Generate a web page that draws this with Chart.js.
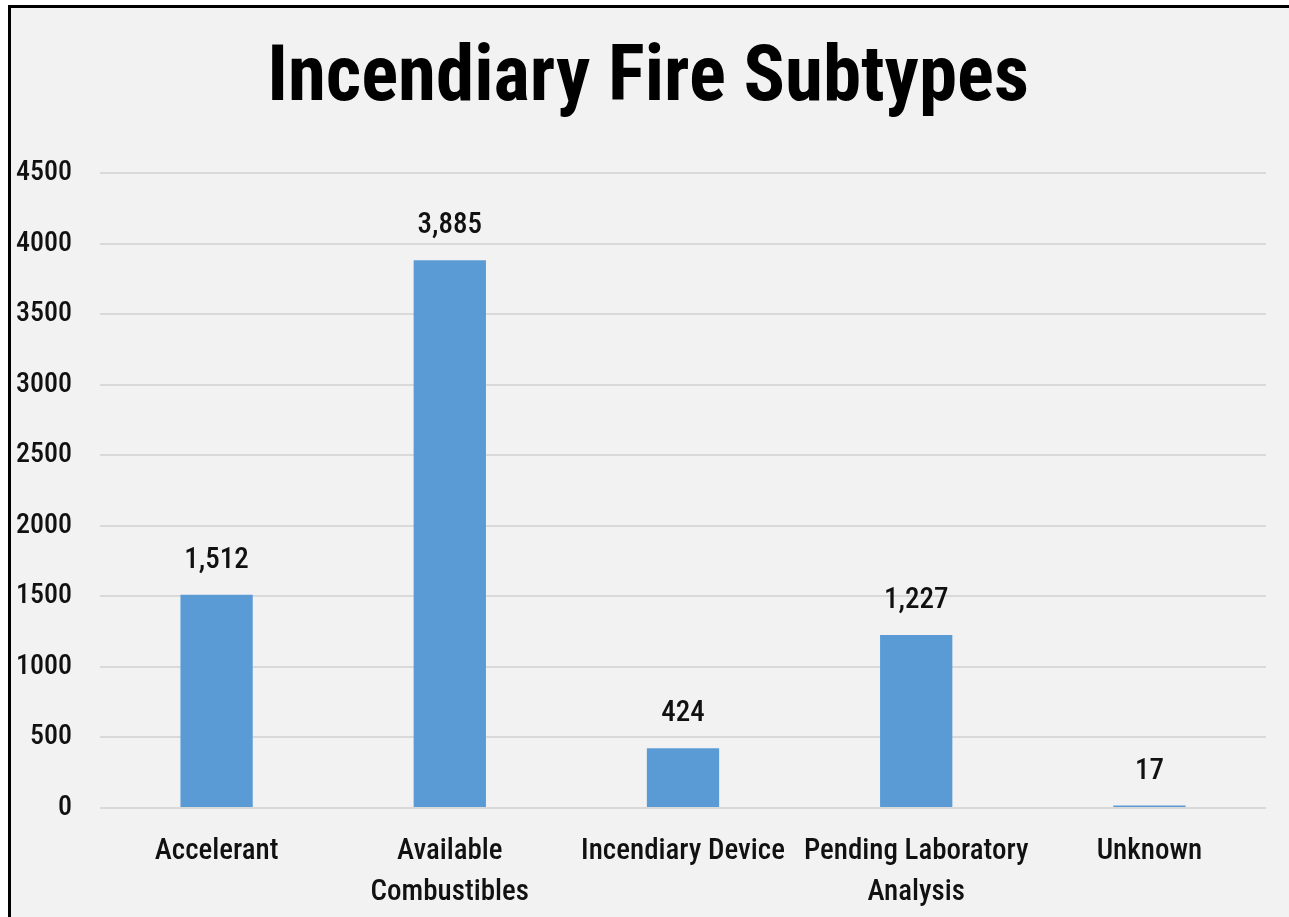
<!DOCTYPE html>
<html>
<head>
<meta charset="utf-8">
<script src="https://cdn.jsdelivr.net/npm/chart.js@4/dist/chart.umd.min.js"></script>
<style>
  html, body { margin: 0; padding: 0; background: #ffffff; width: 1289px; height: 917px; overflow: hidden; }
  #frame { position: absolute; left: 8px; top: 5px; width: 1400px; height: 1000px; background: #f2f2f2; border-left: 3px solid #000; border-top: 3px solid #000; }
  #wrap { position: absolute; left: 0; top: 0; width: 1289px; height: 917px; }
</style>
</head>
<body>
<div id="frame"></div>
<div id="wrap"><canvas id="c" width="1289" height="917"></canvas></div>
<script>
const titleText = 'Incendiary Fire Subtypes';
const categories = ['Accelerant', ['Available', 'Combustibles'], 'Incendiary Device', ['Pending Laboratory', 'Analysis'], 'Unknown'];
const counts = [1512, 3885, 424, 1227, 17];
const yTicks = [0, 500, 1000, 1500, 2000, 2500, 3000, 3500, 4000, 4500];

const FONT = "'Roboto Condensed', 'Liberation Sans Narrow', 'DejaVu Sans Condensed', sans-serif";
const TEXT = '#111111';

const dataLabels = {
  id: 'dataLabels',
  afterDatasetsDraw(chart) {
    const ctx = chart.ctx;
    const meta = chart.getDatasetMeta(0);
    ctx.save();
    ctx.font = "500 29px " + FONT;
    ctx.fillStyle = TEXT;
    ctx.textAlign = 'center';
    ctx.textBaseline = 'alphabetic';
    meta.data.forEach((bar, i) => {
      ctx.fillText(counts[i].toLocaleString('en-US'), bar.x, bar.y - 27);
    });
    ctx.restore();
  }
};

new Chart(document.getElementById('c'), {
  type: 'bar',
  data: {
    labels: categories,
    datasets: [{
      data: counts,
      backgroundColor: '#5b9bd5',
      borderWidth: 0,
      categoryPercentage: 1.0,
      barPercentage: 0.31,
      yAxisID: 'y'
    }]
  },
  options: {
    responsive: false,
    animation: false,
    devicePixelRatio: 1,
    layout: { padding: { left: 10, right: 3, top: 0, bottom: 0 } },
    plugins: {
      legend: { display: false },
      tooltip: { enabled: false },
      title: {
        display: true,
        text: titleText,
        color: '#000',
        font: { family: FONT, size: 77, weight: 'bold', lineHeight: 1.2 },
        padding: { top: 35, bottom: 46 }
      }
    },
    scales: {
      x: {
        grid: { display: false },
        border: { display: false },
        ticks: {
          color: TEXT,
          font: { family: FONT, size: 29, weight: 500, lineHeight: 1.41 },
          maxRotation: 0,
          autoSkip: false,
          padding: 15
        },
        afterFit(scale) { scale.height = 109; }
      },
      y: {
        position: 'left',
        min: 0,
        max: 4500,
        grid: { color: '#d9d9d9', lineWidth: 2, drawTicks: false },
        border: { display: false },
        afterBuildTicks(scale) { scale.ticks = yTicks.map(v => ({ value: v })); },
        ticks: {
          color: TEXT,
          font: { family: FONT, size: 28, weight: 500 },
          padding: 28,
          callback: (v) => String(v)
        },
        afterFit(scale) { scale.width = 90; }
      },
      yRightSpace: {
        position: 'right',
        display: true,
        grid: { display: false, drawTicks: false },
        border: { display: false },
        ticks: { display: false },
        afterFit(scale) { scale.width = 20; }
      }
    }
  },
  plugins: [dataLabels]
});
</script>
</body>
</html>
